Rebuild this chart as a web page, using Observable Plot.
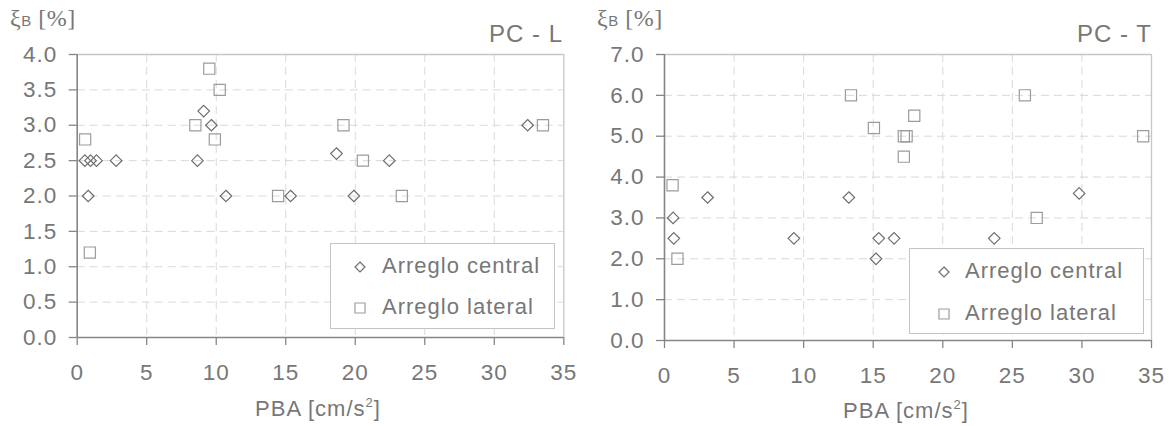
<!DOCTYPE html>
<html>
<head>
<meta charset="utf-8">
<script src="https://cdn.jsdelivr.net/npm/d3@7"></script>
<script src="https://cdn.jsdelivr.net/npm/@observablehq/plot@0.6"></script>
<style>
  html, body { margin: 0; padding: 0; background: #fff; }
  #root { position: relative; width: 1169px; height: 426px; overflow: hidden;
          font-family: "Liberation Sans", Arial, sans-serif; color: #777; }
  .panel { position: absolute; top: 0; }
  .ov { position: absolute; white-space: nowrap; letter-spacing: 1px; }
  .title { font-size: 24px; line-height: 1; }
  .ylab { font-size: 24px; line-height: 1; font-family: "Liberation Serif", "DejaVu Serif", serif; letter-spacing: 0.5px; }
  .ylab .sub { font-family: "Liberation Sans", Arial, sans-serif; font-size: 15px; }
  .xlab { font-size: 22px; line-height: 1; }
  .xlab sup { font-size: 13px; vertical-align: 9px; line-height: 0; }
  .legend { position: absolute; background: #fff; border: 1px solid #c4c4c4; box-sizing: border-box; }
  .legend .row { position: absolute; font-size: 22px; line-height: 1; letter-spacing: 1px; white-space: nowrap; }
  .legend svg { position: absolute; overflow: visible; }
</style>
</head>
<body>
<div id="root"></div>
<script>
// ---------- data ----------
const xTicks = [0, 5, 10, 15, 20, 25, 30, 35];
const xGridTicks = [5, 10, 15, 20, 25, 30];

// PC - L
const lTicksY = [0, 0.5, 1.0, 1.5, 2.0, 2.5, 3.0, 3.5, 4.0];
const lCentralX = [0.55, 0.96, 1.39, 2.8, 0.79, 9.1, 9.65, 8.65, 10.7, 15.35, 18.65, 22.45, 19.9, 32.4];
const lCentralY = [2.5, 2.5, 2.5, 2.5, 2.0, 3.2, 3.0, 2.5, 2.0, 2.0, 2.6, 2.5, 2.0, 3.0];
const lLateralX = [0.57, 0.91, 9.5, 10.25, 8.5, 9.9, 14.45, 19.15, 20.55, 23.35, 33.5];
const lLateralY = [2.8, 1.2, 3.8, 3.5, 3.0, 2.8, 2.0, 3.0, 2.5, 2.0, 3.0];

// PC - T
const tTicksY = [0, 1, 2, 3, 4, 5, 6, 7];
const tCentralX = [0.62, 0.67, 3.1, 9.3, 13.25, 15.2, 15.4, 16.5, 23.7, 29.8];
const tCentralY = [3.0, 2.5, 3.5, 2.5, 3.5, 2.0, 2.5, 2.5, 2.5, 3.6];
const tLateralX = [0.58, 0.93, 13.4, 15.05, 17.2, 17.4, 17.2, 17.95, 25.9, 26.75, 34.4];
const tLateralY = [3.8, 2.0, 6.0, 5.2, 5.0, 5.0, 4.5, 5.5, 6.0, 3.0, 5.0];

const seriesNames = ["Arreglo central", "Arreglo lateral"];
const yLabelMain = "ξ", yLabelSub = "B", yLabelRest = " [%]";
const xLabelText = "PBA [cm/s", xLabelSup = "2", xLabelEnd = "]";

// ---------- styles ----------
const axisColor = "#868686";
const gridColor = "#d9d9d9";
const borderColor = "#c6c6c6";
const centralColor = "#6e6e6e";
const lateralColor = "#9c9c9c";

const root = document.getElementById("root");

function makePanel(cfg) {
  const central = cfg.cx.map((x, i) => ({x, y: cfg.cy[i]}));
  const lateral = cfg.lx.map((x, i) => ({x, y: cfg.ly[i]}));
  const ymax = cfg.yTicks[cfg.yTicks.length - 1];
  const yGrid = cfg.yTicks.filter(v => v > 0 && v < ymax);

  const chart = Plot.plot({
    width: cfg.width, height: 426,
    marginLeft: cfg.ml, marginRight: cfg.mr, marginTop: 54, marginBottom: cfg.mb,
    style: {fontFamily: "'Liberation Sans', Arial, sans-serif", fontSize: "22.5px",
            color: "#777", background: "transparent", overflow: "visible", letterSpacing: "1px"},
    x: {domain: [0, 35]},
    y: {domain: [0, ymax]},
    marks: [
      Plot.gridX(xGridTicks, {stroke: gridColor, strokeOpacity: 1, strokeDasharray: "8,5"}),
      Plot.gridY(yGrid, {stroke: gridColor, strokeOpacity: 1, strokeDasharray: "8,5"}),
      Plot.ruleY([ymax], {stroke: borderColor, strokeWidth: 1.3}),
      Plot.ruleX([35], {stroke: borderColor, strokeWidth: 1.3}),
      Plot.axisX({ticks: xTicks, tickSize: 8, tickPadding: 19, label: null, stroke: axisColor, strokeWidth: 1.3}),
      Plot.axisY({ticks: cfg.yTicks, tickFormat: d3.format(".1f"), tickSize: 8, tickPadding: 12, label: null, stroke: axisColor, strokeWidth: 1.3}),
      Plot.ruleY([0], {stroke: axisColor, strokeWidth: 1.6}),
      Plot.ruleX([0], {stroke: axisColor, strokeWidth: 1.6}),
      Plot.dot(lateral, {x: "x", y: "y", symbol: "square", r: 6.3, fill: "none", stroke: lateralColor, strokeWidth: 1.2}),
      Plot.dot(central, {x: "x", y: "y", symbol: "diamond2", r: 5.2, fill: "none", stroke: centralColor, strokeWidth: 1.2})
    ]
  });

  const wrap = document.createElement("div");
  wrap.className = "panel";
  wrap.style.left = cfg.left + "px";
  wrap.appendChild(chart);
  root.appendChild(wrap);

  // title
  const t = document.createElement("div");
  t.className = "ov title";
  t.textContent = cfg.title;
  t.style.right = (1169 - cfg.titleRight) + "px";
  t.style.top = "22px";
  root.appendChild(t);

  // y label
  const yl = document.createElement("div");
  yl.className = "ov ylab";
  yl.innerHTML = yLabelMain + '<span class="sub">' + yLabelSub + '</span>' + yLabelRest;
  yl.style.left = cfg.ylabX + "px";
  yl.style.top = "6px";
  root.appendChild(yl);

  // x label
  const xl = document.createElement("div");
  xl.className = "ov xlab";
  xl.innerHTML = xLabelText + "<sup>" + xLabelSup + "</sup>" + xLabelEnd;
  xl.style.left = cfg.xlabCenter + "px";
  xl.style.transform = "translateX(-50%)";
  xl.style.top = cfg.xlabTop + "px";
  root.appendChild(xl);

  // legend
  const lg = document.createElement("div");
  lg.className = "legend";
  const L = cfg.legend;
  lg.style.left = L.x + "px"; lg.style.top = L.y + "px";
  lg.style.width = L.w + "px"; lg.style.height = L.h + "px";
  const rows = [
    {name: seriesNames[0], sym: "diamond", dy: L.r1},
    {name: seriesNames[1], sym: "square", dy: L.r2}
  ];
  rows.forEach(r => {
    const s = document.createElementNS("http://www.w3.org/2000/svg", "svg");
    s.setAttribute("width", 14); s.setAttribute("height", 14);
    s.style.left = (L.symX - L.x - 7) + "px";
    s.style.top = (r.dy - 7) + "px";
    const p = document.createElementNS("http://www.w3.org/2000/svg", "path");
    if (r.sym === "diamond") {
      p.setAttribute("d", "M7,2L12,7L7,12L2,7Z");
      p.setAttribute("stroke", centralColor);
    } else {
      p.setAttribute("d", "M2,2H12V12H2Z");
      p.setAttribute("stroke", lateralColor);
    }
    p.setAttribute("fill", "none");
    p.setAttribute("stroke-width", "1.2");
    s.appendChild(p);
    lg.appendChild(s);
    const tx = document.createElement("div");
    tx.className = "row";
    tx.textContent = r.name;
    tx.style.left = (L.textX - L.x) + "px";
    tx.style.top = (r.dy - 12) + "px";
    lg.appendChild(tx);
  });
  root.appendChild(lg);
}

makePanel({
  left: 0, width: 585, ml: 76.7, mr: 21.7, mb: 89,
  yTicks: lTicksY, cx: lCentralX, cy: lCentralY, lx: lLateralX, ly: lLateralY,
  title: "PC - L", titleRight: 563, ylabX: 10, xlabCenter: 318, xlabTop: 398,
  legend: {x: 330, y: 243, w: 225, h: 86, symX: 359, textX: 381, r1: 23, r2: 64}
});
makePanel({
  left: 585, width: 584, ml: 79, mr: 18, mb: 86,
  yTicks: tTicksY, cx: tCentralX, cy: tCentralY, lx: tLateralX, ly: tLateralY,
  title: "PC - T", titleRight: 1152, ylabX: 597, xlabCenter: 906, xlabTop: 400,
  legend: {x: 909, y: 248, w: 235, h: 86, symX: 943, textX: 964, r1: 23, r2: 65}
});
</script>
</body>
</html>
